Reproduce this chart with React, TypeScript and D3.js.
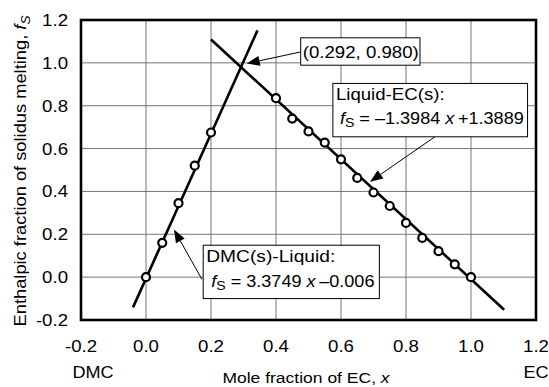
import React from 'react';
import * as d3 from 'd3';

// tick values
const xTicks = [-0.2, 0, 0.2, 0.4, 0.6, 0.8, 1.0, 1.2];
const yTicks = [-0.2, 0, 0.2, 0.4, 0.6, 0.8, 1.0, 1.2];

// DMC(s)-Liquid data points
const dmcX = [0, 0.05, 0.1, 0.15, 0.2];
const dmcY = [0, 0.16, 0.345, 0.52, 0.675];

// Liquid-EC(s) data points
const ecX = [0.4, 0.45, 0.5, 0.55, 0.6, 0.65, 0.7, 0.75, 0.8, 0.85, 0.9, 0.95, 1.0];
const ecY = [0.835, 0.74, 0.68, 0.628, 0.55, 0.463, 0.395, 0.332, 0.253, 0.183, 0.121, 0.06, 0.0];

// fitted lines (slope, intercept, x range drawn)
const dmcFit = { a: 3.3749, b: -0.006, from: -0.04, to: 0.343 };
const ecFit = { a: -1.3984, b: 1.3889, from: 0.2, to: 1.102 };

const W = 549;
const H = 387;
const FONT = 'Liberation Sans, Arial, sans-serif';
const SX = 1.13; // the original text is a bit wide

// text stretched horizontally
const T = ({ x, y, size = 16.5, anchor = 'start', rotate = 0, children }: any) => (
  <text transform={`translate(${x},${y}) rotate(${rotate}) scale(${SX},1)`}
    textAnchor={anchor} fontSize={size}>{children}</text>
);

export default function App() {
  const x = d3.scaleLinear().domain([-0.2, 1.2]).range([81, 536]);
  const y = d3.scaleLinear().domain([-0.2, 1.2]).range([320, 20]);

  const fitLine = (f: { a: number; b: number; from: number; to: number }) =>
    d3.line<number>().x(v => x(v)).y(v => y(f.a * v + f.b))([f.from, f.to]) as string;

  const arrow = (x1: number, y1: number, x2: number, y2: number) => {
    // line + filled arrowhead at (x2, y2) in data coords
    const px1 = x(x1), py1 = y(y1), px2 = x(x2), py2 = y(y2);
    const ang = Math.atan2(py2 - py1, px2 - px1);
    const len = 13, half = 5;
    const bx = px2 - len * Math.cos(ang), by = py2 - len * Math.sin(ang);
    const p1 = [bx + half * Math.sin(ang), by - half * Math.cos(ang)];
    const p2 = [bx - half * Math.sin(ang), by + half * Math.cos(ang)];
    return (
      <g>
        <line x1={px1} y1={py1} x2={bx} y2={by} stroke="#000" strokeWidth={1} />
        <polygon points={`${px2},${py2} ${p1[0]},${p1[1]} ${p2[0]},${p2[1]}`} fill="#000" />
      </g>
    );
  };

  const box = (x0: number, y0: number, x1: number, y1: number) => (
    <rect x={x(x0)} y={y(y0)} width={x(x1) - x(x0)} height={y(y1) - y(y0)}
      fill="#fff" stroke="#000" strokeWidth={1} />
  );

  return (
    <svg width={W} height={H} style={{ position: 'absolute', left: 0, top: 0, background: '#fff' }}
      fontFamily={FONT}>
      {/* grid */}
      {xTicks.slice(1, -1).map(t => (
        <line key={'gx' + t} x1={x(t)} x2={x(t)} y1={y(1.2)} y2={y(-0.2)}
          stroke="#666" strokeWidth={0.9} />
      ))}
      {yTicks.slice(1, -1).map(t => (
        <line key={'gy' + t} x1={x(-0.2)} x2={x(1.2)} y1={y(t)} y2={y(t)}
          stroke="#666" strokeWidth={0.9} />
      ))}

      {/* fitted lines */}
      <path d={fitLine(dmcFit)} stroke="#000" strokeWidth={2.6} fill="none" />
      <path d={fitLine(ecFit)} stroke="#000" strokeWidth={2.6} fill="none" />

      {/* points */}
      {dmcX.map((v, i) => (
        <circle key={'d' + i} cx={x(v)} cy={y(dmcY[i])} r={4} fill="#fff" stroke="#000" strokeWidth={2.2} />
      ))}
      {ecX.map((v, i) => (
        <circle key={'e' + i} cx={x(v)} cy={y(ecY[i])} r={4} fill="#fff" stroke="#000" strokeWidth={2.2} />
      ))}

      {/* plot frame */}
      <rect x={x(-0.2)} y={y(1.2)} width={x(1.2) - x(-0.2)} height={y(-0.2) - y(1.2)}
        fill="none" stroke="#000" strokeWidth={2.6} />

      {/* tick labels */}
      {xTicks.map(t => (
        <T key={'tx' + t} x={x(t)} y={352} anchor="middle">{t.toFixed(1)}</T>
      ))}
      {yTicks.map(t => (
        <T key={'ty' + t} x={68} y={y(t) + 6} anchor="end">{t.toFixed(1)}</T>
      ))}

      {/* axis titles */}
      <T x={93} y={378} size={16} anchor="middle">DMC</T>
      <T x={536} y={378} size={16} anchor="middle">EC</T>
      <T x={306} y={383} size={15.5} anchor="middle">
        Mole fraction of EC, <tspan fontStyle="italic">x</tspan>
      </T>
      <T x={26} y={171} size={16.2} anchor="middle" rotate={-90}>
        Enthalpic fraction of solidus melting, <tspan fontStyle="italic">f</tspan>
        <tspan fontStyle="italic" fontSize={12} dy={4}>S</tspan>
      </T>

      {/* annotation: intersection */}
      {arrow(0.476, 1.051, 0.31, 0.997)}
      {box(0.476, 1.117, 0.843, 0.989)}
      <T x={x(0.476) + 2} y={y(1.117) + 20}>(0.292, 0.980)</T>

      {/* annotation: Liquid-EC(s) */}
      {arrow(0.889, 0.655, 0.689, 0.445)}
      {box(0.575, 0.904, 1.174, 0.655)}
      <T x={x(0.575) + 3} y={y(0.904) + 17}>Liquid-EC(s):</T>
      <T x={x(0.575) + 7} y={y(0.904) + 41} size={16}>
        <tspan fontStyle="italic">f</tspan>
        <tspan fontSize={12.5} dy={3}>S</tspan>
        <tspan dy={-3}> = –1.3984 </tspan>
        <tspan fontStyle="italic">x</tspan>
        <tspan>{'\u2009+1.3889'}</tspan>
      </T>

      {/* annotation: DMC(s)-Liquid */}
      {arrow(0.172, -0.01, 0.086, 0.222)}
      {box(0.176, 0.149, 0.718, -0.1)}
      <T x={x(0.176) + 3} y={y(0.149) + 17} size={17}>DMC(s)-Liquid:</T>
      <T x={x(0.176) + 8} y={y(0.149) + 42} size={16}>
        <tspan fontStyle="italic">f</tspan>
        <tspan fontSize={12.5} dy={3}>S</tspan>
        <tspan dy={-3}> = 3.3749 </tspan>
        <tspan fontStyle="italic">x</tspan>
        <tspan>{'\u2009–0.006'}</tspan>
      </T>
    </svg>
  );
}
